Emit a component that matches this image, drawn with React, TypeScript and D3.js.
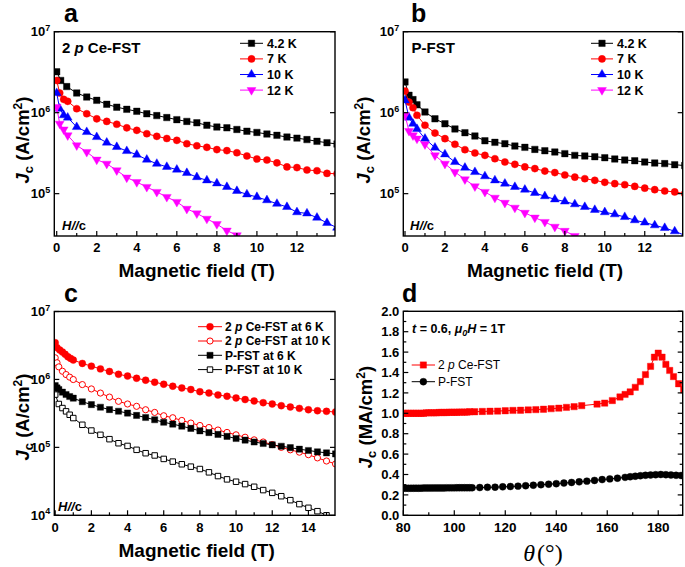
import React from "react";
import * as d3 from "d3";

const SANS = "'Liberation Sans', Arial, Helvetica, sans-serif";
const SERIF = "'Liberation Serif', 'Times New Roman', serif";

// ---------------- Panel a : 2 p Ce-FST (H//c) ----------------
const aX42 = [0, 0.2, 0.5, 1, 1.5, 2, 2.5, 3, 3.5, 4, 4.5, 5, 5.5, 6, 6.5, 7, 7.5, 8, 8.5, 9, 9.5, 10, 10.5, 11, 11.5, 12, 12.5, 13, 13.5, 14];
const aY42 = [3.2e6, 2.5e6, 2.1e6, 1.75e6, 1.56e6, 1.42e6, 1.27e6, 1.17e6, 1.1e6, 1.04e6, 9.7e5, 9.2e5, 8.7e5, 8.2e5, 7.8e5, 7.5e5, 7.0e5, 6.65e5, 6.5e5, 6.2e5, 5.9e5, 5.7e5, 5.45e5, 5.25e5, 5.0e5, 4.85e5, 4.65e5, 4.43e5, 4.26e5, 4.1e5];
const aX7 = [0, 0.15, 0.35, 0.55, 1, 1.5, 2, 2.5, 3, 3.5, 4, 4.5, 5, 5.5, 6, 6.5, 7, 7.5, 8, 8.5, 9, 9.5, 10, 10.5, 11, 11.5, 12, 12.5, 13, 13.5, 14];
const aY7 = [2.5e6, 1.75e6, 1.46e6, 1.38e6, 1.12e6, 9.7e5, 8.4e5, 7.8e5, 7.2e5, 6.5e5, 6.05e5, 5.5e5, 5.1e5, 4.8e5, 4.55e5, 4.14e5, 3.9e5, 3.73e5, 3.5e5, 3.4e5, 3.2e5, 2.92e5, 2.68e5, 2.6e5, 2.4e5, 2.14e5, 2.1e5, 1.96e5, 1.92e5, 1.78e5, 1.76e5];
const aY10 = [1.75e6, 1.12e6, 9.3e5, 8.7e5, 6.65e5, 5.77e5, 5.0e5, 4.27e5, 3.77e5, 3.36e5, 3.03e5, 2.63e5, 2.34e5, 2.14e5, 1.98e5, 1.8e5, 1.6e5, 1.46e5, 1.34e5, 1.21e5, 1.08e5, 9.8e4, 9.1e4, 8.3e4, 7.5e4, 6.85e4, 5.9e4, 5.7e4, 5.05e4, 4.35e4, 3.8e4];
const aX12 = [0, 0.15, 0.35, 0.55, 1, 1.5, 2, 2.5, 3, 3.5, 4, 4.5, 5, 5.5, 6, 6.5, 7, 7.5, 8, 8.5, 9, 9.5];
const aY12 = [1.17e6, 7.3e5, 6.2e5, 5.25e5, 3.95e5, 3.27e5, 2.63e5, 2.34e5, 1.94e5, 1.58e5, 1.39e5, 1.21e5, 1.05e5, 9.1e4, 7.9e4, 6.5e4, 5.7e4, 4.9e4, 4.2e4, 3.5e4, 3.06e4, 2.65e4];

// ---------------- Panel b : P-FST (H//c) ----------------
const bX = [0, 0.2, 0.4, 0.6, 1, 1.5, 2, 2.5, 3, 3.5, 4, 4.5, 5, 5.5, 6, 6.5, 7, 7.5, 8, 8.5, 9, 9.5, 10, 10.5, 11, 11.5, 12, 12.5, 13, 13.5, 14];
const bY42 = [2.4e6, 1.64e6, 1.45e6, 1.25e6, 1.02e6, 8.4e5, 7.3e5, 6.3e5, 5.66e5, 5.15e5, 4.5e5, 4.3e5, 4.14e5, 3.87e5, 3.73e5, 3.52e5, 3.39e5, 3.27e5, 3.12e5, 2.97e5, 2.92e5, 2.86e5, 2.78e5, 2.68e5, 2.6e5, 2.55e5, 2.46e5, 2.39e5, 2.35e5, 2.28e5, 2.22e5];
const bY7 = [1.85e6, 1.35e6, 1.15e6, 9.3e5, 7.0e5, 5.6e5, 4.78e5, 4.07e5, 3.49e5, 3.18e5, 2.97e5, 2.7e5, 2.46e5, 2.3e5, 2.14e5, 2.04e5, 1.9e5, 1.82e5, 1.7e5, 1.6e5, 1.53e5, 1.46e5, 1.38e5, 1.33e5, 1.29e5, 1.23e5, 1.17e5, 1.12e5, 1.08e5, 1.05e5, 1.0e5];
const bY10 = [1.42e6, 8.7e5, 7.3e5, 6.3e5, 4.78e5, 3.7e5, 3.06e5, 2.46e5, 2.09e5, 1.85e5, 1.64e5, 1.46e5, 1.33e5, 1.21e5, 1.12e5, 1.02e5, 9.3e4, 8.5e4, 8.0e4, 7.4e4, 6.85e4, 6.3e4, 5.9e4, 5.56e4, 5.15e4, 4.7e4, 4.4e4, 4.07e4, 3.77e4, 3.43e4, 3.06e4];
const bX12 = [0, 0.2, 0.4, 0.6, 1, 1.5, 2, 2.5, 3, 3.5, 4, 4.5, 5, 5.5, 6, 6.5, 7, 7.5, 8, 8.5, 9];
const bY12 = [9.3e5, 5.94e5, 5.25e5, 4.78e5, 4.07e5, 2.97e5, 2.34e5, 1.85e5, 1.5e5, 1.23e5, 1.05e5, 8.9e4, 7.7e4, 6.7e4, 5.8e4, 5.06e4, 4.47e4, 3.9e4, 3.47e4, 3.0e4, 2.6e4];

// ---------------- Panel c : comparison ----------------
const cXCe6 = [0, 0.1, 0.25, 0.4, 0.55, 0.7, 0.85, 1, 1.5, 2, 2.5, 3, 3.5, 4, 4.5, 5, 5.5, 6, 6.5, 7, 7.5, 8, 8.5, 9, 9.5, 10, 10.5, 11, 11.5, 12, 12.5, 13, 13.5, 14, 14.5, 15, 15.5];
const cYCe6 = [3.47e6, 2.93e6, 2.71e6, 2.53e6, 2.34e6, 2.16e6, 2.04e6, 1.93e6, 1.72e6, 1.57e6, 1.43e6, 1.31e6, 1.19e6, 1.12e6, 1.04e6, 9.75e5, 9.1e5, 8.5e5, 7.95e5, 7.5e5, 7.1e5, 6.6e5, 6.3e5, 5.9e5, 5.65e5, 5.34e5, 5.05e5, 4.82e5, 4.55e5, 4.35e5, 4.11e5, 3.93e5, 3.75e5, 3.58e5, 3.46e5, 3.39e5, 3.31e5];
const cX = [0, 0.1, 0.2, 0.4, 0.6, 0.8, 1, 1.5, 2, 2.5, 3, 3.5, 4, 4.5, 5, 5.5, 6, 6.5, 7, 7.5, 8, 8.5, 9, 9.5, 10, 10.5, 11, 11.5, 12, 12.5, 13, 13.5, 14, 14.5, 15, 15.5];
const cYCe10 = [2.08e6, 1.76e6, 1.53e6, 1.32e6, 1.18e6, 1.08e6, 9.97e5, 8.4e5, 7.25e5, 6.3e5, 5.5e5, 4.76e5, 4.35e5, 4.02e5, 3.58e5, 3.27e5, 2.92e5, 2.73e5, 2.49e5, 2.28e5, 2.1e5, 1.96e5, 1.8e5, 1.66e5, 1.53e5, 1.41e5, 1.29e5, 1.2e5, 1.1e5, 1.0e5, 9.2e4, 8.5e4, 7.8e4, 7.0e4, 6.3e4, 5.7e4];
const cYP6 = [8.1e5, 7.5e5, 7.1e5, 6.5e5, 6.0e5, 5.6e5, 5.3e5, 4.7e5, 4.26e5, 3.9e5, 3.6e5, 3.4e5, 3.2e5, 2.95e5, 2.75e5, 2.55e5, 2.34e5, 2.2e5, 2.05e5, 1.9e5, 1.75e5, 1.65e5, 1.55e5, 1.45e5, 1.35e5, 1.28e5, 1.2e5, 1.14e5, 1.09e5, 1.04e5, 9.9e4, 9.4e4, 9.0e4, 8.6e4, 8.3e4, 8.0e4];
const cXP10 = [0, 0.2, 0.4, 0.6, 0.8, 1, 1.5, 2, 2.5, 3, 3.5, 4, 4.5, 5, 5.5, 6, 6.5, 7, 7.5, 8, 8.5, 9, 9.5, 10, 10.5, 11, 11.5, 12, 12.5, 13, 13.5, 14, 14.5, 15];
const cYP10 = [5.98e5, 4.35e5, 3.79e5, 3.39e5, 3.02e5, 2.7e5, 2.15e5, 1.77e5, 1.53e5, 1.32e5, 1.15e5, 1.05e5, 9.2e4, 8.2e4, 7.6e4, 6.76e4, 6.17e4, 5.64e4, 5.2e4, 4.8e4, 4.29e4, 3.78e4, 3.38e4, 3.12e4, 2.88e4, 2.63e4, 2.35e4, 2.14e4, 1.91e4, 1.67e4, 1.46e4, 1.29e4, 1.15e4, 1.0e4];

// ---------------- Panel d : angular dependence ----------------
const dThetaCe = [80, 81, 82, 83, 84, 85, 86, 87, 88, 89, 90, 91, 92, 93, 94, 95, 96, 97, 98, 99, 100, 101, 102, 103, 104, 105, 106, 108, 111, 114, 117, 120, 123, 126, 129, 132, 135, 138, 141, 144, 147, 150, 156, 159, 162, 165, 167, 169, 171, 173, 175, 177, 178.5, 180, 181.5, 183, 184.5, 186, 188, 190];
const dJcCe = [1.0, 1.0, 1.0, 1.0, 1.0, 1.0, 1.0, 1.0, 1.0, 1.005, 1.005, 1.005, 1.005, 1.005, 1.008, 1.008, 1.008, 1.008, 1.01, 1.01, 1.01, 1.01, 1.012, 1.012, 1.012, 1.012, 1.015, 1.015, 1.018, 1.02, 1.022, 1.025, 1.028, 1.03, 1.033, 1.036, 1.04, 1.045, 1.05, 1.058, 1.065, 1.075, 1.09, 1.1, 1.125, 1.16, 1.185, 1.21, 1.255, 1.31, 1.38, 1.46, 1.55, 1.59, 1.55, 1.48, 1.42, 1.36, 1.29, 1.23];
const dThetaP = [80, 81, 82, 83, 84, 85, 86, 87, 88, 89, 90, 91, 92, 93, 94, 95, 96, 97, 98, 99, 100, 101, 102, 103, 104, 105, 106, 107, 110, 113, 116, 119, 122, 125, 128, 131, 134, 137, 140, 143, 146, 149, 152, 155, 158, 161, 164, 167, 169, 171, 173, 175, 177, 179, 181, 183, 185, 187, 189];
const dJcP = [0.265, 0.265, 0.265, 0.265, 0.266, 0.266, 0.266, 0.266, 0.267, 0.267, 0.267, 0.267, 0.268, 0.268, 0.268, 0.268, 0.268, 0.269, 0.269, 0.269, 0.269, 0.27, 0.27, 0.27, 0.27, 0.27, 0.27, 0.27, 0.272, 0.274, 0.276, 0.279, 0.282, 0.286, 0.29, 0.295, 0.3, 0.305, 0.31, 0.316, 0.322, 0.328, 0.335, 0.342, 0.35, 0.357, 0.364, 0.372, 0.378, 0.383, 0.388, 0.392, 0.395, 0.398, 0.4, 0.398, 0.395, 0.392, 0.39];

// tick values
const abXMajor = [0, 2, 4, 6, 8, 10, 12];
const abXMinor = [1, 3, 5, 7, 9, 11, 13];
const cXMajor = [0, 2, 4, 6, 8, 10, 12, 14];
const cXMinor = [1, 3, 5, 7, 9, 11, 13, 15];
const abYDecades = [5, 6, 7];
const cYDecades = [4, 5, 6, 7];
const dXMajor = [80, 100, 120, 140, 160, 180];
const dXMinor = [90, 110, 130, 150, 170];
const dYMajor = [0, 0.2, 0.4, 0.6, 0.8, 1.0, 1.2, 1.4, 1.6, 1.8, 2.0];
const dYMinor = [0.1, 0.3, 0.5, 0.7, 0.9, 1.1, 1.3, 1.5, 1.7, 1.9];

const tempLabels = ["4.2 K", "7 K", "10 K", "12 K"];

type Shape = "square" | "circle" | "up" | "down";
interface Ser {
  xs: number[];
  ys: number[];
  color: string;
  shape: Shape;
  open?: boolean;
  size: number;
}

function symPath(shape: Shape, size: number): string {
  const t = shape === "square" ? d3.symbolSquare : shape === "circle" ? d3.symbolCircle : d3.symbolTriangle;
  return d3.symbol().type(t).size(size)() as string;
}

function Marker({ s, cx, cy }: { s: Ser; cx: number; cy: number }) {
  return (
    <path
      d={symPath(s.shape, s.size)}
      transform={`translate(${cx},${cy})${s.shape === "down" ? " rotate(180)" : ""}`}
      fill={s.open ? "#fff" : s.color}
      stroke={s.color}
      strokeWidth={s.open ? 1 : 0.4}
    />
  );
}

function SeriesG({ s, x, y }: { s: Ser; x: (v: number) => number; y: (v: number) => number }) {
  const line = d3
    .line<number>()
    .x((_, i) => x(s.xs[i]))
    .y((d) => y(d));
  return (
    <g>
      <path d={line(s.ys) as string} fill="none" stroke={s.color} strokeWidth={1} />
      {s.ys.map((v, i) => (
        <Marker key={i} s={s} cx={x(s.xs[i])} cy={y(v)} />
      ))}
    </g>
  );
}

interface Box {
  L: number;
  R: number;
  T: number;
  B: number;
}

function Frame({
  box,
  x,
  y,
  xMajor,
  xMinor,
  yMajorVals,
  yMinorVals,
  yLabel,
  xFont,
  yFont,
  xLabelDy,
}: {
  box: Box;
  x: (v: number) => number;
  y: (v: number) => number;
  xMajor: number[];
  xMinor: number[];
  yMajorVals: number[];
  yMinorVals: number[];
  yLabel: (v: number) => React.ReactNode;
  xFont: number;
  yFont: number;
  xLabelDy: number;
}) {
  const { L, R, T, B } = box;
  const maj = 5,
    min = 3;
  return (
    <g fontFamily={SANS} fontWeight="bold">
      {xMajor.map((v) => (
        <g key={"xM" + v}>
          <line x1={x(v)} x2={x(v)} y1={B} y2={B - maj} stroke="#000" strokeWidth={1.2} />
          <text x={x(v)} y={B + xLabelDy} textAnchor="middle" fontSize={xFont}>
            {v}
          </text>
        </g>
      ))}
      {xMinor.map((v) => (
        <line key={"xm" + v} x1={x(v)} x2={x(v)} y1={B} y2={B - min} stroke="#000" strokeWidth={1.2} />
      ))}
      {yMajorVals.map((v) => (
        <g key={"yM" + v}>
          <line x1={L} x2={L + maj} y1={y(v)} y2={y(v)} stroke="#000" strokeWidth={1.2} />
          <line x1={R} x2={R - maj} y1={y(v)} y2={y(v)} stroke="#000" strokeWidth={1.2} />
          <text x={L - 4} y={y(v) + yFont * 0.36} textAnchor="end" fontSize={yFont}>
            {yLabel(v)}
          </text>
        </g>
      ))}
      {yMinorVals.map((v) => (
        <g key={"ym" + v}>
          <line x1={L} x2={L + min} y1={y(v)} y2={y(v)} stroke="#000" strokeWidth={1.2} />
          <line x1={R} x2={R - min} y1={y(v)} y2={y(v)} stroke="#000" strokeWidth={1.2} />
        </g>
      ))}
      <rect x={L} y={T} width={R - L} height={B - T} fill="none" stroke="#000" strokeWidth={1.4} />
    </g>
  );
}

const logLabel = (v: number) => {
  const k = Math.round(Math.log10(v));
  return (
    <>
      <tspan>10</tspan>
      <tspan dy={-5.5} fontSize={9}>
        {k}
      </tspan>
    </>
  );
};

function LegendRow({ s, x1, x2, tx, y, children, fontSize, weight }: any) {
  return (
    <g>
      <line x1={x1} x2={x2} y1={y} y2={y} stroke={s.color} strokeWidth={1} />
      <Marker s={s} cx={(x1 + x2) / 2} cy={y} />
      <text x={tx} y={y + fontSize * 0.36} fontSize={fontSize} fontWeight={weight} fontFamily={SANS}>
        {children}
      </text>
    </g>
  );
}

function JcTitle({ x, y, unit }: { x: number; y: number; unit: string }) {
  return (
    <text transform={`translate(${x},${y}) rotate(-90)`} textAnchor="middle" fontFamily={SANS} fontWeight="bold" fontSize={18.5}>
      <tspan fontStyle="italic">J</tspan>
      <tspan dy={4} fontSize={13}>
        c
      </tspan>
      <tspan dy={-4}>{` (${unit}/cm`}</tspan>
      <tspan dy={-7} fontSize={12}>
        2
      </tspan>
      <tspan dy={7}>)</tspan>
    </text>
  );
}

export default function App() {
  const W = 685,
    H = 567;

  const A: Box = { L: 54.3, R: 335, T: 31.7, B: 236 };
  const Bx: Box = { L: 403.3, R: 682.7, T: 31.7, B: 236 };
  const C: Box = { L: 54.3, R: 335, T: 311.5, B: 515.3 };
  const D: Box = { L: 403.3, R: 682.7, T: 311.3, B: 515.3 };

  const xa = d3.scaleLinear().domain([-0.12, 13.9]).range([A.L, A.R]);
  const ya = d3.scaleLog().domain([3e4, 1e7]).range([A.B, A.T]);
  const xb = d3.scaleLinear().domain([-0.085, 13.9]).range([Bx.L, Bx.R]);
  const yb = d3.scaleLog().domain([3e4, 1e7]).range([Bx.B, Bx.T]);
  const xc = d3.scaleLinear().domain([-0.05, 15.47]).range([C.L, C.R]);
  const yc = d3.scaleLog().domain([1e4, 1e7]).range([C.B, C.T]);
  const xd = d3.scaleLinear().domain([80, 189.6]).range([D.L, D.R]);
  const yd = d3.scaleLinear().domain([0, 2]).range([D.B, D.T]);

  const aSeries: Ser[] = [
    { xs: aX42, ys: aY42, color: "#000000", shape: "square", size: 42 },
    { xs: aX7, ys: aY7, color: "#ff0000", shape: "circle", size: 40 },
    { xs: aX7, ys: aY10, color: "#0000ff", shape: "up", size: 34 },
    { xs: aX12, ys: aY12, color: "#ff00ff", shape: "down", size: 34 },
  ];
  const bSeries: Ser[] = [
    { xs: bX, ys: bY42, color: "#000000", shape: "square", size: 42 },
    { xs: bX, ys: bY7, color: "#ff0000", shape: "circle", size: 40 },
    { xs: bX, ys: bY10, color: "#0000ff", shape: "up", size: 34 },
    { xs: bX12, ys: bY12, color: "#ff00ff", shape: "down", size: 34 },
  ];
  const cSeries: Ser[] = [
    { xs: cXCe6, ys: cYCe6, color: "#ff0000", shape: "circle", size: 38 },
    { xs: cX, ys: cYCe10, color: "#ff0000", shape: "circle", open: true, size: 30 },
    { xs: cX, ys: cYP6, color: "#000000", shape: "square", size: 38 },
    { xs: cXP10, ys: cYP10, color: "#000000", shape: "square", open: true, size: 30 },
  ];
  const dSeries: Ser[] = [
    { xs: dThetaCe, ys: dJcCe, color: "#ff0000", shape: "square", size: 40 },
    { xs: dThetaP, ys: dJcP, color: "#000000", shape: "circle", size: 38 },
  ];

  const decadeVals = (ks: number[]) => ks.map((k) => Math.pow(10, k));

  const magTitle = (cx: number, yy: number) => (
    <text x={cx} y={yy} textAnchor="middle" fontFamily={SANS} fontWeight="bold" fontSize={19}>
      Magnetic field (T)
    </text>
  );

  const hc = (x: number, y: number) => (
    <text x={x} y={y} fontFamily={SANS} fontWeight="bold" fontSize={13}>
      <tspan fontStyle="italic">H</tspan>
      <tspan fontStyle="italic">//</tspan>
      <tspan>c</tspan>
    </text>
  );

  const cLegend = [
    ["2 ", "p", " Ce-FST at 6 K"],
    ["2 ", "p", " Ce-FST at 10 K"],
    ["P-FST at 6 K", "", ""],
    ["P-FST at 10 K", "", ""],
  ];

  return (
    <div style={{ position: "absolute", left: 0, top: 0 }}>
      <svg width={W} height={H} viewBox={`0 0 ${W} ${H}`} style={{ display: "block", background: "#fff" }}>
        <defs>
          {[
            ["clipA", A],
            ["clipB", Bx],
            ["clipC", C],
            ["clipD", D],
          ].map(([id, b]: any) => (
            <clipPath id={id} key={id}>
              <rect x={b.L} y={b.T} width={b.R - b.L} height={b.B - b.T} />
            </clipPath>
          ))}
        </defs>
        <rect x={0} y={0} width={W} height={H} fill="#fff" />

        {/* panel letters */}
        <g fontFamily={SANS} fontWeight="bold" fontSize={25}>
          <text x={64} y={22}>a</text>
          <text x={411} y={22}>b</text>
          <text x={64} y={302}>c</text>
          <text x={402} y={302}>d</text>
        </g>

        {/* ---------- Panel a ---------- */}
        <g clipPath="url(#clipA)">
          {aSeries.map((s, i) => (
            <SeriesG key={i} s={s} x={xa} y={ya} />
          ))}
        </g>
        <Frame box={A} x={xa} y={ya} xMajor={abXMajor} xMinor={abXMinor} yMajorVals={decadeVals(abYDecades)} yMinorVals={[]} yLabel={logLabel} xFont={13} yFont={13} xLabelDy={16} />
        <text x={62} y={53} fontFamily={SANS} fontWeight="bold" fontSize={15}>
          2 <tspan fontStyle="italic">p</tspan> Ce-FST
        </text>
        {hc(62, 230)}
        {aSeries.map((s, i) => (
          <LegendRow key={i} s={s} x1={240} x2={263} tx={267} y={43.3 + i * 15.6} fontSize={12.5} weight="bold">
            {tempLabels[i]}
          </LegendRow>
        ))}
        {magTitle((A.L + A.R) / 2 + 2, 277)}
        <JcTitle x={29} y={140} unit="A" />

        {/* ---------- Panel b ---------- */}
        <g clipPath="url(#clipB)">
          {bSeries.map((s, i) => (
            <SeriesG key={i} s={s} x={xb} y={yb} />
          ))}
        </g>
        <Frame box={Bx} x={xb} y={yb} xMajor={abXMajor} xMinor={abXMinor} yMajorVals={decadeVals(abYDecades)} yMinorVals={[]} yLabel={logLabel} xFont={13} yFont={13} xLabelDy={16} />
        <text x={411.5} y={53} fontFamily={SANS} fontWeight="bold" fontSize={15}>
          P-FST
        </text>
        {hc(410, 230)}
        {bSeries.map((s, i) => (
          <LegendRow key={i} s={s} x1={591} x2={613} tx={617} y={43.3 + i * 15.6} fontSize={12.5} weight="bold">
            {tempLabels[i]}
          </LegendRow>
        ))}
        {magTitle((Bx.L + Bx.R) / 2 + 2, 277)}
        <JcTitle x={370} y={140} unit="A" />

        {/* ---------- Panel c ---------- */}
        <g clipPath="url(#clipC)">
          {cSeries.map((s, i) => (
            <SeriesG key={i} s={s} x={xc} y={yc} />
          ))}
        </g>
        <Frame box={C} x={xc} y={yc} xMajor={cXMajor} xMinor={cXMinor} yMajorVals={decadeVals(cYDecades)} yMinorVals={[]} yLabel={logLabel} xFont={13} yFont={13} xLabelDy={16.5} />
        {hc(58, 511)}
        {cSeries.map((s, i) => (
          <LegendRow key={i} s={s} x1={198} x2={222} tx={225} y={326.7 + i * 14.3} fontSize={12} weight="bold">
            {cLegend[i][0]}
            {cLegend[i][1] ? <tspan fontStyle="italic">{cLegend[i][1]}</tspan> : null}
            {cLegend[i][2]}
          </LegendRow>
        ))}
        {magTitle((C.L + C.R) / 2 + 2, 557)}
        <JcTitle x={29} y={417} unit="A" />

        {/* ---------- Panel d ---------- */}
        <g clipPath="url(#clipD)">
          {dSeries.map((s, i) => (
            <SeriesG key={i} s={s} x={xd} y={yd} />
          ))}
        </g>
        <Frame box={D} x={xd} y={yd} xMajor={dXMajor} xMinor={dXMinor} yMajorVals={dYMajor} yMinorVals={dYMinor} yLabel={(v) => d3.format(".1f")(v)} xFont={13.5} yFont={13} xLabelDy={17} />
        <text x={412} y={333} fontFamily={SANS} fontWeight="bold" fontSize={12.5}>
          <tspan fontStyle="italic">t</tspan> = 0.6, <tspan fontStyle="italic">μ</tspan>
          <tspan dy={3} fontSize={9} fontStyle="italic">
            0
          </tspan>
          <tspan dy={-3} fontStyle="italic">H</tspan> = 1T
        </text>
        <LegendRow s={dSeries[0]} x1={411.7} x2={435} tx={438} y={365} fontSize={12} weight="normal">
          2 <tspan fontStyle="italic">p</tspan> Ce-FST
        </LegendRow>
        <LegendRow s={dSeries[1]} x1={411.7} x2={435} tx={438} y={381.7} fontSize={12} weight="normal">
          P-FST
        </LegendRow>
        <JcTitle x={372} y={417} unit="MA" />
        <text x={(D.L + D.R) / 2} y={561} textAnchor="middle" fontFamily={SERIF} fontSize={24}>
          <tspan fontStyle="italic">θ</tspan>
          <tspan dx={2}>(°)</tspan>
        </text>
      </svg>
    </div>
  );
}
